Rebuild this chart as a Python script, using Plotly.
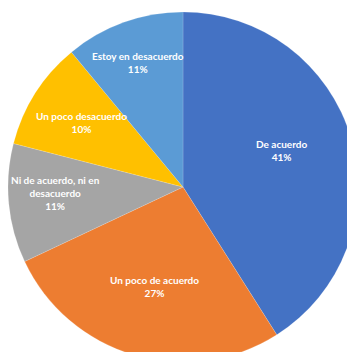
import math
import plotly.graph_objects as go

# Survey answers, clockwise from 12 o'clock
categories = [
    "De acuerdo",
    "Un poco de acuerdo",
    "Ni de acuerdo, ni en desacuerdo",
    "Un poco desacuerdo",
    "Estoy en desacuerdo",
]
percentages = [41, 27, 11, 10, 11]
label_lines = [
    "De acuerdo",
    "Un poco de acuerdo",
    "Ni de acuerdo, ni en<br>desacuerdo",
    "Un poco desacuerdo",
    "Estoy en desacuerdo",
]

colors = ["#4472C4", "#ED7D31", "#A5A5A5", "#FFC000", "#5B9BD5"]

W, H = 400, 400
dom_x = [0.02, 0.895]
dom_y = [0.095, 0.97]

fig = go.Figure(
    go.Pie(
        labels=categories,
        values=percentages,
        sort=False,
        direction="clockwise",
        rotation=0,
        marker=dict(colors=colors, line=dict(color="rgba(255,255,255,0.3)", width=0.5)),
        textinfo="none",
        hoverinfo="label+percent",
        domain=dict(x=dom_x, y=dom_y),
        showlegend=False,
    )
)

# Pie geometry in pixels, used to place the data labels near each slice's bisector
cx = (dom_x[0] + dom_x[1]) / 2 * W
cy = (1 - (dom_y[0] + dom_y[1]) / 2) * H
radius = min((dom_x[1] - dom_x[0]) * W, (dom_y[1] - dom_y[0]) * H) / 2
label_radius = [0.60, 0.59, 0.73, 0.69, 0.755]
label_turn_deg = [-4.3, 0.0, 2.7, 0.0, 0.0]

total = sum(percentages)
cum = 0
for txt, val, rf, turn in zip(label_lines, percentages, label_radius, label_turn_deg):
    mid = (cum + val / 2) / total * 2 * math.pi + math.radians(turn)
    cum += val
    px = cx + rf * radius * math.sin(mid)
    py = cy - rf * radius * math.cos(mid)
    fig.add_annotation(
        x=px / W,
        y=1 - py / H,
        xref="paper",
        yref="paper",
        xanchor="center",
        yanchor="middle",
        text=f"{txt}<br>{round(val / total * 100)}%",
        showarrow=False,
        font=dict(family="Lato, Open Sans, sans-serif", size=10, color="white", weight="bold"),
        align="center",
    )

fig.update_layout(
    width=W,
    height=H,
    margin=dict(l=0, r=0, t=0, b=0),
    paper_bgcolor="white",
    plot_bgcolor="white",
)

fig.write_html(
    "out.html",
    post_script="document.documentElement.style.overflow='hidden';document.body.style.overflow='hidden';document.body.style.margin='0';",
)
